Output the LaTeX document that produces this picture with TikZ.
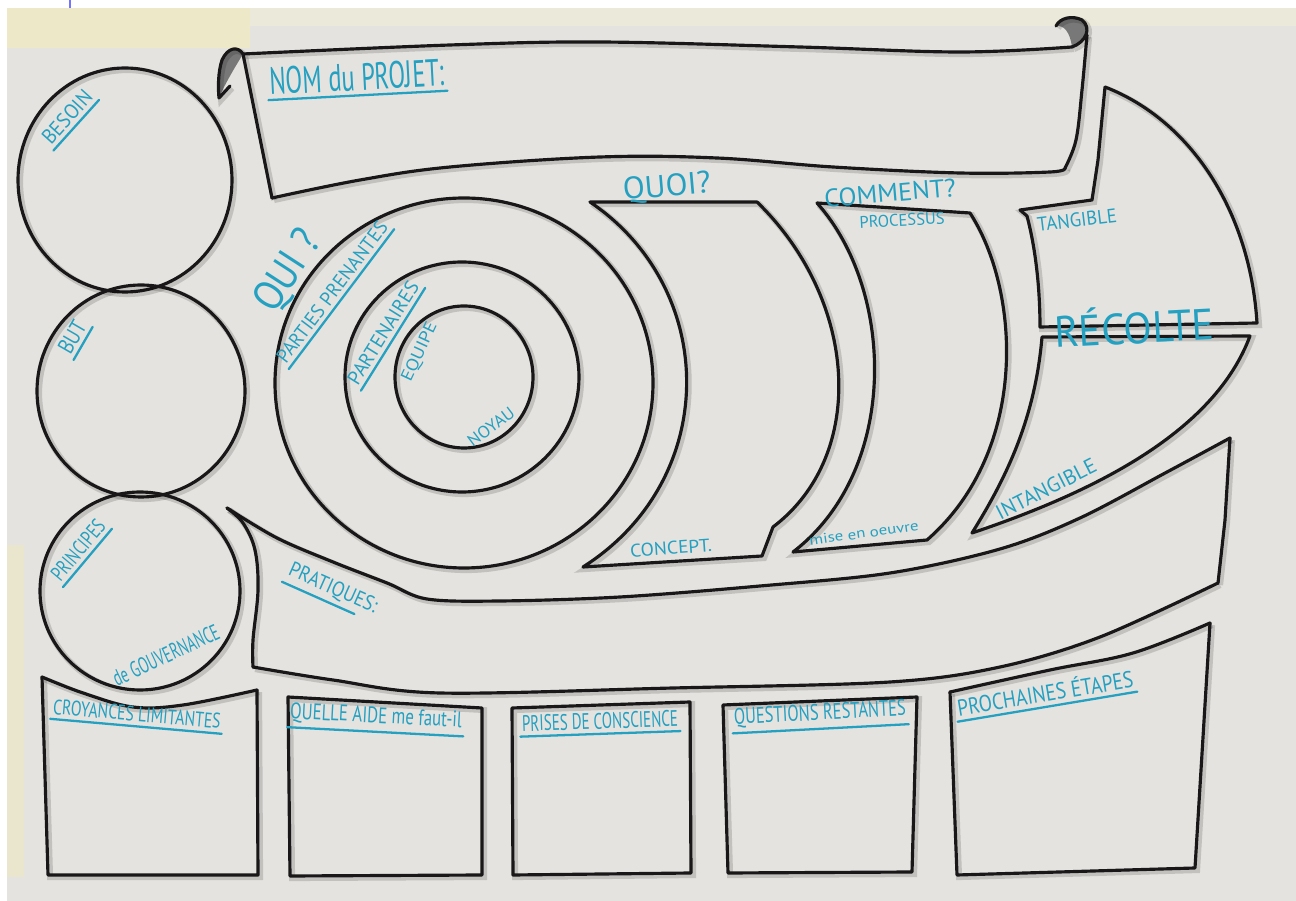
\documentclass[tikz,border=0pt]{standalone}
\usepackage{fontspec}
\usepackage{graphicx}
\newfontfamily\handfont{PT Sans}
\usetikzlibrary{calc}
\definecolor{paper}{RGB}{228,227,224}
\definecolor{tapey}{RGB}{237,233,200}
\definecolor{tapel}{RGB}{235,233,217}
\definecolor{tapes}{RGB}{233,230,205}
\definecolor{ink}{RGB}{25,23,23}
\definecolor{marker}{RGB}{36,160,192}
\definecolor{curlgray}{RGB}{120,120,120}
\newlength\pxu
\setlength\pxu{0.02cm}
\newcommand\hw[3]{\resizebox{#1\pxu}{#2\pxu}{\handfont #3}}
\tikzset{
  sk/.style={draw=ink, line width=1.8pt, line join=round, line cap=round,
    preaction={draw=black, opacity=.15, line width=3.4pt,
      transform canvas={xshift=1.2pt, yshift=-1.2pt}}},
  lbl/.style={text=marker, inner xsep=1pt, inner ysep=2.5pt, anchor=center},
  ul/.style={draw=marker, line width=1.3pt, line cap=round}
}
\begin{document}
\begin{tikzpicture}[x=0.02cm, y=-0.02cm]
\useasboundingbox (0,0) rectangle (1296,901);
% background
\fill[white] (0,0) rectangle (1296,901);
\fill[paper] (7,8) rectangle (1296,901);
\fill[tapel] (7,8) rectangle (1296,26);
\fill[tapey] (7,8) rectangle (250,48);
\fill[tapes] (7,545) rectangle (24,877);
\draw[blue!55, line width=1pt] (70,0) -- (70,8);

% ---- left circles
\draw[sk] (125,180) ellipse [x radius=107, y radius=112];
\draw[sk] (141,391) ellipse [x radius=104, y radius=106];
\draw[sk] (140,591) ellipse [x radius=100, y radius=99];

% ---- banner
\draw[sk] (243,54) -- (272,198);
\draw[sk] plot[smooth, tension=.6] coordinates {(272,198) (360,180) (450,167) (600,157) (717,158) (833,167) (960,173) (1050,172) (1065,168)};
\draw[sk] plot[smooth, tension=.6] coordinates {(1065,168) (1076,140) (1082,90) (1087,35)};
\draw[sk] plot[smooth, tension=.6] coordinates {(243,54) (450,45) (600,42) (800,47) (960,52) (1072,47)};
\fill[curlgray] (1072,47) .. controls (1086,42) and (1092,28) .. (1082,20) .. controls (1072,15) and (1060,18) .. (1056,26) .. controls (1064,25) and (1070,32) .. (1072,47);
\draw[sk] (1072,47) .. controls (1086,42) and (1092,28) .. (1082,20) .. controls (1072,15) and (1060,18) .. (1056,26);
\fill[curlgray] (243,54) .. controls (238,46) and (228,47) .. (222,60) .. controls (218,72) and (218,88) .. (219,98) .. controls (224,86) and (232,72) .. (243,54);
\draw[sk] (243,54) .. controls (238,46) and (228,47) .. (222,60) .. controls (218,72) and (218,88) .. (219,98) -- (230,86);

% ---- QUI concentric circles
\draw[sk] (464,383) ellipse [x radius=189, y radius=185];
\draw[sk] (462,377) ellipse [x radius=117, y radius=115];
\draw[sk] (464,377) ellipse [x radius=69, y radius=71];

% ---- QUOI
\draw[sk] (590,202) -- (757,202) .. controls (858,300) and (868,455) .. (773,527) -- (762,556) -- (583,567) .. controls (720,480) and (720,290) .. (590,202);
% ---- COMMENT
\draw[sk] (817,203) -- (970,213) .. controls (1020,290) and (1030,450) .. (927,540) -- (793,552) .. controls (900,470) and (895,290) .. (817,203);
% ---- TANGIBLE
\draw[sk] (1105,87) -- (1098,160) -- (1092,200) -- (1020,210) -- (1027,216) .. controls (1036,250) and (1040,290) .. (1040,327) -- (1257,323) .. controls (1250,210) and (1190,120) .. (1105,87);
% ---- INTANGIBLE
\draw[sk] (1042,337) -- (1250,336) .. controls (1215,430) and (1100,490) .. (972,533) .. controls (1005,480) and (1035,420) .. (1042,337);

% ---- PRATIQUES band
\draw[sk] plot[smooth, tension=.55] coordinates {(227,508) (277,538) (333,562) (387,583) (427,599) (500,601) (620,597) (760,586) (890,573) (1000,549) (1080,518) (1167,472) (1230,438)};
\draw[sk] (1230,438) -- (1225,520) -- (1218,583);
\draw[sk] plot[smooth, tension=.55] coordinates {(1218,583) (1100,637) (1000,667) (890,682) (673,688) (440,693) (333,680) (253,667)};
\draw[sk] plot[smooth, tension=.6] coordinates {(253,667) (253,640) (258,590) (255,550) (243,523) (227,508)};

% ---- bottom boxes
\draw[sk] plot[smooth, tension=.6] coordinates {(42,677) (83,693) (133,707) (183,705) (257,690)};
\draw[sk] (257,690) -- (258,875) -- (48,875) -- (42,677);
\draw[sk] (288,697) -- (482,708) -- (482,875) -- (290,876) -- cycle;
\draw[sk] (512,708) -- (690,702) -- (691,873) -- (513,875) -- cycle;
\draw[sk] (723,705) -- (917,697) -- (912,872) -- (728,873) -- cycle;
\draw[sk] plot[smooth, tension=.6] coordinates {(950,692) (1050,670) (1133,653) (1210,623)};
\draw[sk] (1210,623) -- (1195,868) -- (957,875) -- (950,692);

% ---- labels
\node[lbl, rotate=3] (nom) at (357,77) {\hw{175}{27}{NOM du PROJET:}};
\draw[ul] (nom.south west) -- (nom.south east);
\node[lbl, rotate=48] (besoin) at (67,117) {\hw{64}{15}{BESOIN}};
\draw[ul] (besoin.south west) -- (besoin.south east);
\node[lbl, rotate=60] (but) at (72,337) {\hw{34}{16}{BUT}};
\draw[ul] (but.south west) -- (but.south east);
\node[lbl, rotate=50] (principes) at (78,550) {\hw{72}{15}{PRINCIPES}};
\draw[ul] (principes.south west) -- (principes.south east);
\node[lbl, rotate=25] (gouv) at (166,655) {\hw{115}{16}{de GOUVERNANCE}};
\node[lbl, rotate=57] (qui) at (289,272) {\hw{88}{30}{QUI ?}};
\node[lbl, rotate=53] (parties) at (332,292) {\hw{171}{14}{PARTIES PRENANTES}};
\draw[ul] (parties.south west) -- (parties.south east);
\node[lbl, rotate=58] (partenaires) at (383,333) {\hw{117}{14}{PARTENAIRES}};
\draw[ul] (partenaires.south west) -- (partenaires.south east);
\node[lbl, rotate=65] (equipe) at (420,352) {\hw{63}{12}{EQUIPE}};
\node[lbl, rotate=37] (noyau) at (491,427) {\hw{54}{12}{NOYAU}};
\node[lbl, rotate=5] (quoi) at (667,188) {\hw{88}{22}{QUOI?}};
\node[lbl, rotate=5] (comment) at (890,193) {\hw{132}{18}{COMMENT?}};
\node[lbl, rotate=3] (processus) at (902,220) {\hw{85}{12}{PROCESSUS}};
\node[lbl, rotate=4] (concept) at (671,548) {\hw{82}{13}{CONCEPT.}};
\node[lbl, rotate=8] (mise) at (864,533) {\hw{110}{10}{mise en oeuvre}};
\node[lbl, rotate=7] (tangible) at (1077,220) {\hw{80}{14}{TANGIBLE}};
\node[lbl, rotate=3] (recolte) at (1134,325) {\hw{160}{38}{RÉCOLTE}};
\node[lbl, rotate=27] (intangible) at (1046,489) {\hw{110}{15}{INTANGIBLE}};
\node[lbl, rotate=-24] (pratiques) at (333,589) {\hw{95}{15}{PRATIQUES:}};
\draw[ul] (pratiques.south west) -- ($(pratiques.south west)!0.8!(pratiques.south east)$);
\node[lbl, rotate=-5] (croyances) at (137,714) {\hw{168}{15}{CROYANCES LIMITANTES}};
\draw[ul] (croyances.south west) -- (croyances.south east);
\node[lbl, rotate=-3] (aide) at (376,717) {\hw{172}{16}{QUELLE AIDE me faut-il}};
\draw[ul] (aide.south west) -- (aide.south east);
\node[lbl, rotate=2] (prises) at (600,721) {\hw{156}{16}{PRISES DE CONSCIENCE}};
\draw[ul] (prises.south west) -- (prises.south east);
\node[lbl, rotate=3] (questions) at (820,714) {\hw{172}{16}{QUESTIONS RESTANTES}};
\draw[ul] (questions.south west) -- (questions.south east);
\node[lbl, rotate=9.5] (prochaines) at (1045,692) {\hw{178}{20}{PROCHAINES ÉTAPES}};
\draw[ul] (prochaines.south west) -- (prochaines.south east);
\end{tikzpicture}
\end{document}
